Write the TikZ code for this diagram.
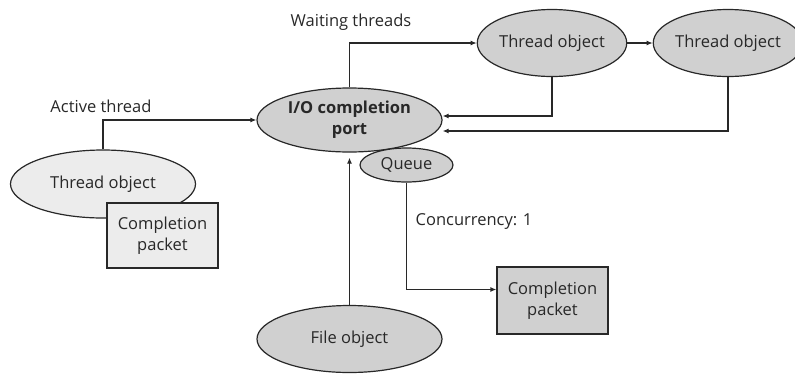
\documentclass[tikz,border=0pt]{standalone}
\usepackage{fontspec}
\setmainfont{Open Sans}
\usepackage{tikz}
\usetikzlibrary{arrows.meta,positioning,shapes.geometric}
\definecolor{portgray}{RGB}{208,208,208}
\definecolor{lightgray}{RGB}{236,236,236}
\definecolor{inkgray}{RGB}{40,40,40}

\begin{document}
\begin{tikzpicture}[x=1pt, y=1pt, font=\fontsize{16.5}{21}\selectfont, text=inkgray]
    \tikzstyle{oval}=[draw=inkgray, ellipse, line width=1.2pt, fill=portgray, inner sep=0pt, align=center]
    \tikzstyle{box}=[draw=inkgray, rectangle, line width=1.2pt, fill=portgray, inner sep=0pt, align=center]
    \tikzstyle{link}=[draw=inkgray, line width=1.2pt, -{Latex[length=6pt, width=5pt]}]
    \useasboundingbox (0,0) rectangle (795,-373);
    % Port and its queue
    \node[oval, minimum width=185, minimum height=64] (port) at (349.5,-120) {\textbf{I/O completion}\\\textbf{port}};
    % Waiting threads
    \node[oval, minimum width=140, minimum height=67] (wait1) at (552,-43) {Thread object};
    \node[oval, minimum width=133, minimum height=67] (wait2) at (728,-43) {Thread object};
    % Active thread
    \node[oval, fill=lightgray, minimum width=185, minimum height=68] (active) at (103,-184) {Thread object};
    \node[box, fill=lightgray, minimum width=111, minimum height=65] (pkt1) at (162.5,-235.5) {Completion\\packet};
    % File object and dequeued packet
    \node[oval, minimum width=185, minimum height=67] (file) at (349.5,-339) {File object};
    \node[box, minimum width=111, minimum height=67] (pkt2) at (552.5,-300.5) {Completion\\packet};
    % Labels
    \node (lwait) at (351,-22) {Waiting threads};
    \node (lact) at (101,-106) {Active thread};
    \node (lconc) at (474,-222) {Concurrency: 1};
    % Connectors
    \draw[link] (active.north) |- (port.west);
    \draw[link] (port.north) |- (wait1.west);
    \draw[link] (wait1.east) -- (wait2.west);
    \draw[link] (wait1.south) |- ([yshift=4pt]port.east);
    \draw[link] (wait2.south) |- ([yshift=-11pt]port.east);
    \draw[link] (file.north) -- ([yshift=-5pt]port.south);
    \node[oval, minimum width=93, minimum height=34] (queue) at (406.5,-165) {Queue};
    \draw[link] (queue.south) |- ([yshift=11pt]pkt2.west);
\end{tikzpicture}
\end{document}
